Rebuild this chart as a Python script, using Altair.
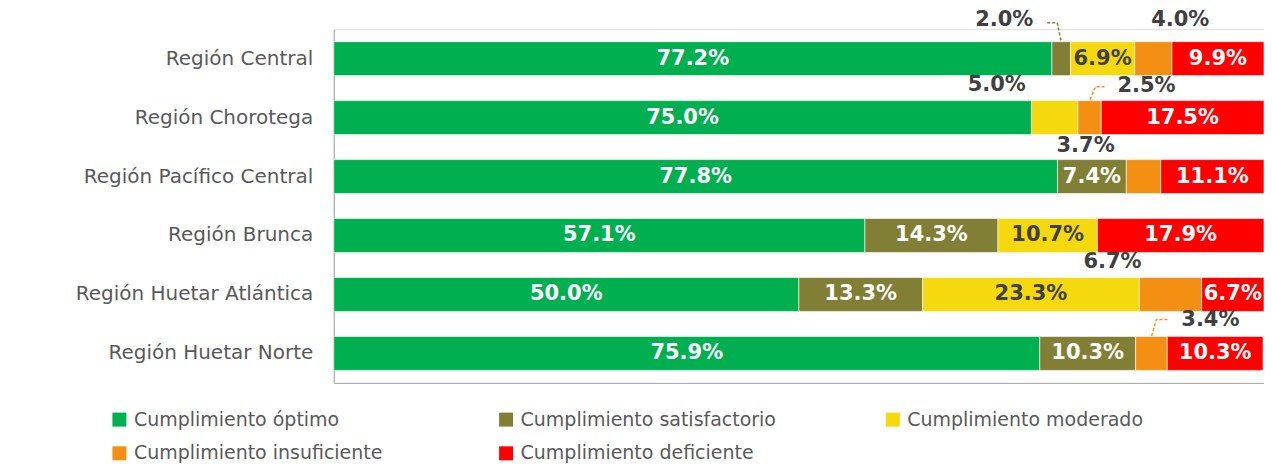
import altair as alt
import pandas as pd

regions = ["Región Central", "Región Chorotega", "Región Pacífico Central",
           "Región Brunca", "Región Huetar Atlántica ", "Región Huetar Norte"]
categories = ["Cumplimiento óptimo", "Cumplimiento satisfactorio", "Cumplimiento moderado",
              "Cumplimiento insuficiente", "Cumplimiento deficiente"]
colors = ["#00B050", "#817F36", "#F5D80E", "#F39013", "#FF0000"]

optimo = [77.2, 75.0, 77.8, 57.1, 50.0, 75.9]
satisfactorio = [2.0, 0.0, 7.4, 14.3, 13.3, 10.3]
moderado = [6.9, 5.0, 0.0, 10.7, 23.3, 0.0]
insuficiente = [4.0, 2.5, 3.7, 0.0, 6.7, 3.4]
deficiente = [9.9, 17.5, 11.1, 17.9, 6.7, 10.3]
series = [optimo, satisfactorio, moderado, insuficiente, deficiente]

# labels drawn outside the bar: (region index, category index)
outside = [(0, 1), (0, 3), (1, 2), (1, 3), (2, 3), (4, 3), (5, 3)]
# pixel offsets of the outside labels from segment centre (layout only)
outside_offsets = {(0, 1): (-57, -39), (0, 3): (27, -39), (1, 2): (-58, -33),
                   (1, 3): (57, -32), (2, 3): (-58, -31), (4, 3): (-58, -32),
                   (5, 3): (59, -33)}
# leader lines: pixel polyline relative to segment centre / band centre
leaders = {(0, 1): [(-14, -36), (-4, -36), (0, -17)],
           (1, 3): [(15, -31), (6, -31), (0, -17)],
           (5, 3): [(16, -34), (5, -34), (0, -17)]}

W, H = 931, 354
PX = W / 100.0

rows = []
for ri, reg in enumerate(regions):
    acc = 0.0
    for ci, cat in enumerate(categories):
        v = series[ci][ri]
        if v > 0:
            rows.append(dict(region=reg, cat=cat, ci=ci, ri=ri, value=v,
                             start=acc, end=acc + v, mid=acc + v / 2,
                             label=f"{v:.1f}%",
                             tcolor="#404040" if ci == 2 else "#FFFFFF",
                             inside=(ri, ci) not in outside))
        acc += v
df = pd.DataFrame(rows)

ysc = alt.Scale(domain=regions, paddingInner=0.424, paddingOuter=0.212)
xsc = alt.Scale(domain=[0, 100], nice=False)
FONT = "DejaVu Sans"

bars = alt.Chart(df).mark_bar(stroke="white", strokeWidth=0.6).encode(
    y=alt.Y("region:N", scale=ysc, sort=regions, title=None,
            axis=alt.Axis(ticks=False, domainColor="#A6A6A6", labelColor="#595959",
                          labelFont=FONT, labelFontSize=20, labelPadding=21,
                          labelLimit=400)),
    x=alt.X("start:Q", scale=xsc, title=None,
            axis=alt.Axis(labels=False, ticks=False, grid=False, domainColor="#A6A6A6")),
    x2="end:Q",
    color=alt.Color("cat:N", scale=alt.Scale(domain=categories, range=colors), title=None,
                    legend=alt.Legend(orient="none", legendX=-224, legendY=381, columns=3,
                                      direction="horizontal",
                                      symbolType="square", symbolSize=196, symbolStrokeWidth=0,
                                      labelFont=FONT, labelFontSize=19, labelColor="#595959",
                                      labelOffset=5, labelLimit=500, gridAlign="all",
                                      columnPadding=107, rowPadding=14)),
)

inside_txt = alt.Chart(df[df.inside]).mark_text(
    font=FONT, fontWeight="bold", fontSize=21, baseline="middle").encode(
    y=alt.Y("region:N", scale=ysc, sort=regions),
    x=alt.X("mid:Q", scale=xsc),
    text="label:N",
    color=alt.Color("tcolor:N", scale=None),
)

layers = [bars, inside_txt]
for key, (dx, dy) in outside_offsets.items():
    ri, ci = key
    sub = df[(df.ri == ri) & (df.ci == ci)]
    layers.append(alt.Chart(sub).mark_text(
        font=FONT, fontWeight="bold", fontSize=21, baseline="middle",
        color="#404040", dx=dx, dy=dy).encode(
        y=alt.Y("region:N", scale=ysc, sort=regions),
        x=alt.X("mid:Q", scale=xsc),
        text="label:N"))

lrows = []
for (ri, ci), pts in leaders.items():
    m = df[(df.ri == ri) & (df.ci == ci)].iloc[0]
    for k, (px, py) in enumerate(pts):
        lrows.append(dict(lid=f"{ri}-{ci}", region=regions[ri], pt=k,
                          x=m["mid"] + px / PX, yo=py + 17, col=colors[ci]))
ldf = pd.DataFrame(lrows)
for lid, g in ldf.groupby("lid"):
    layers.append(alt.Chart(g).mark_line(strokeDash=[3, 2], strokeWidth=1.5,
                                         color=g["col"].iloc[0]).encode(
        y=alt.Y("region:N", scale=ysc, sort=regions),
        yOffset=alt.YOffset("yo:Q", scale=None),
        x=alt.X("x:Q", scale=xsc),
        order="pt:Q"))

chart = alt.layer(*layers).properties(
    width=W, height=H,
    autosize=alt.AutoSizeParams(type="none"),
    padding={"left": 326, "top": 21, "right": 0, "bottom": 80},
).configure_view(strokeWidth=0).configure(font=FONT)

chart.save("out.html", embed_options={"renderer": "svg", "actions": False})
